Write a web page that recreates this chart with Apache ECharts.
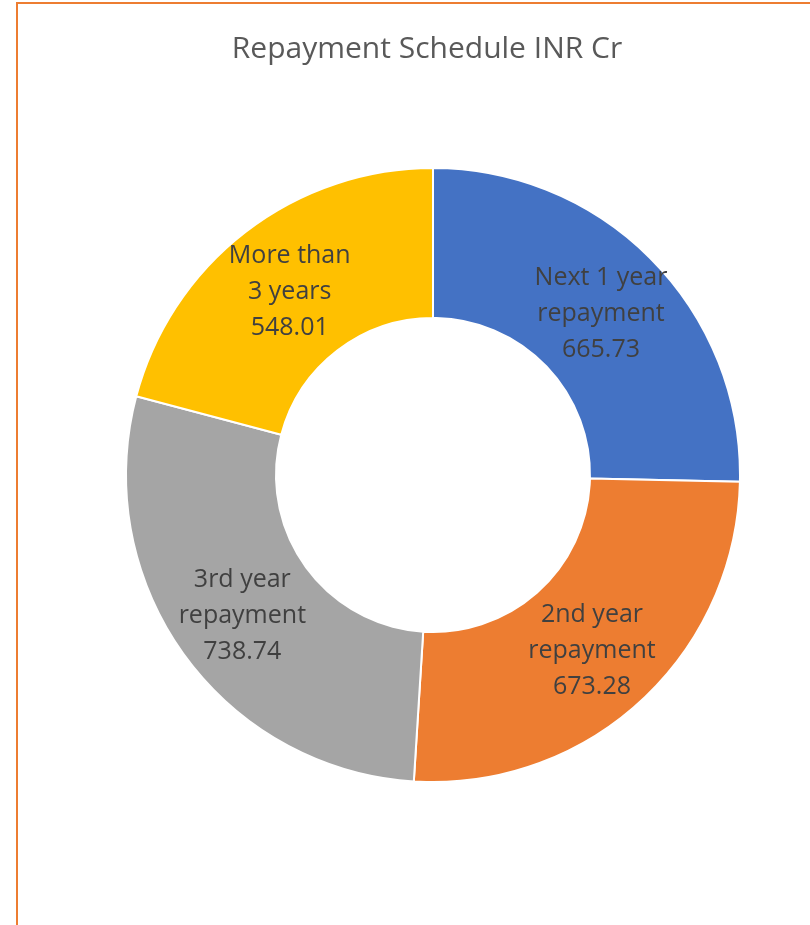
<!DOCTYPE html>
<html>
<head>
<meta charset="utf-8">
<style>
  html, body { margin: 0; padding: 0; background: #fff; }
  #chart { width: 810px; height: 925px; }
</style>
<script src="https://cdn.jsdelivr.net/npm/echarts@6/dist/echarts.min.js"></script>
</head>
<body>
<div id="chart"></div>
<script>
// Repayment buckets (INR Cr)
const categories = ['Next 1 year\nrepayment', '2nd year\nrepayment', '3rd year\nrepayment', 'More than\n3 years'];
const values = [665.73, 673.28, 738.74, 548.01];
const colors = ['#4472C4', '#ED7D31', '#A5A5A5', '#FFC000'];

const chart = echarts.init(document.getElementById('chart'), null, { renderer: 'canvas' });

chart.setOption({
  backgroundColor: '#ffffff',
  animation: false,
  graphic: [{
    type: 'rect',
    z: -1,
    shape: { x: 17, y: 3, width: 900, height: 1000 },
    style: { fill: '#ffffff', stroke: '#ED7D31', lineWidth: 2 }
  }],
  title: {
    text: 'Repayment Schedule INR Cr',
    left: 422,
    top: 29,
    textAlign: 'center',
    textStyle: {
      fontFamily: 'Open Sans',
      fontSize: 30,
      fontWeight: 'normal',
      color: '#595959'
    }
  },
  color: colors,
  series: [{
    type: 'pie',
    center: [433, 475],
    radius: [157, 307],
    startAngle: 90,
    clockwise: true,
    avoidLabelOverlap: false,
    itemStyle: { borderColor: '#ffffff', borderWidth: 2 },
    label: {
      show: true,
      position: 'inside',
      formatter: p => p.name + '\n' + p.value.toFixed(2),
      fontFamily: 'Open Sans',
      fontSize: 25,
      lineHeight: 36,
      color: '#404040',
      align: 'center',
      offset: [0, 3]
    },
    labelLine: { show: false },
    emphasis: { disabled: true },
    data: categories.map((name, i) => ({ name, value: values[i] }))
  }]
});
</script>
</body>
</html>
